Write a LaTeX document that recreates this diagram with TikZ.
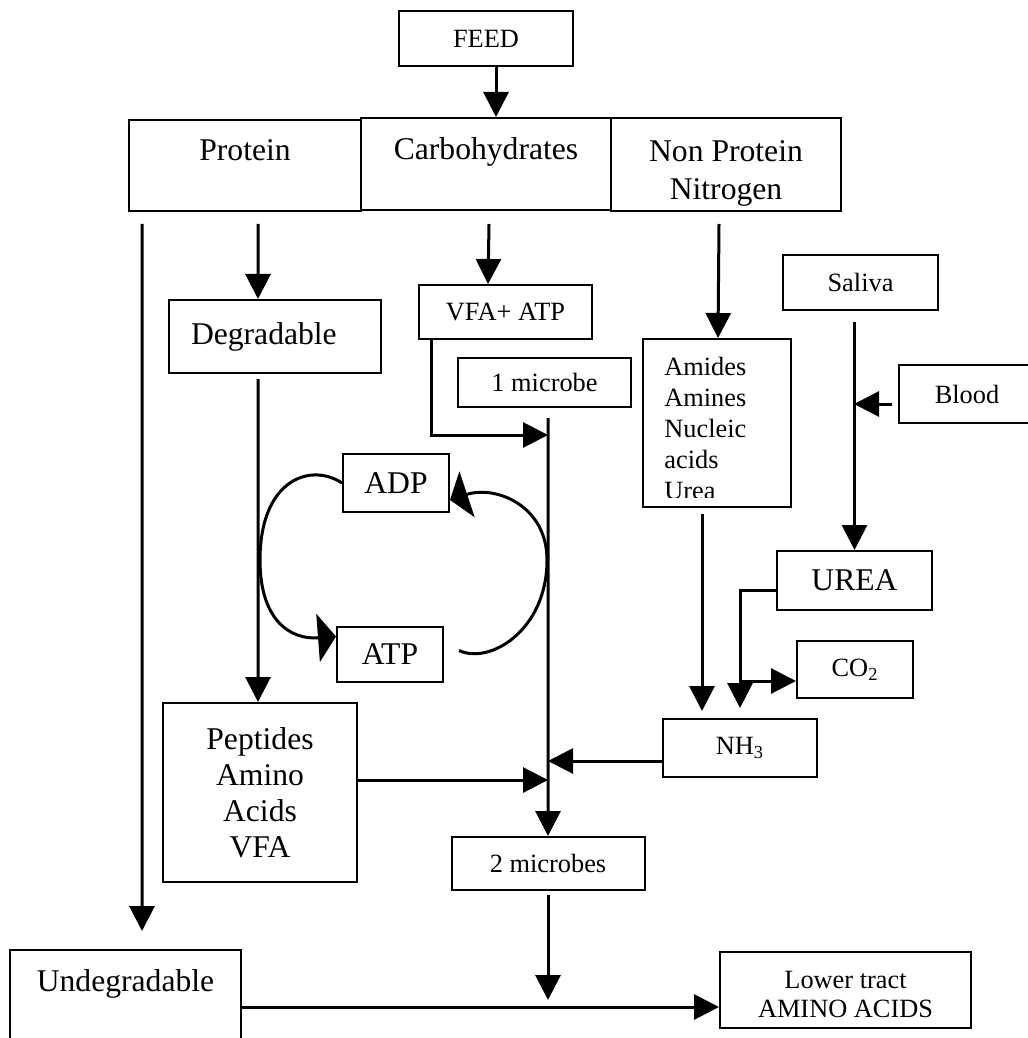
\documentclass[tikz,border=0pt]{standalone}
\usepackage{fontspec}
\setmainfont{Liberation Serif}
\usetikzlibrary{arrows.meta, calc}
\newcommand{\boxfont}{\fontsize{18}{21.5}\selectfont}
\newcommand{\smallboxfont}{\fontsize{15}{18}\selectfont}

\begin{document}
\begin{tikzpicture}[x=0.2mm,y=-0.2mm,
  box/.style={draw,line width=0.4mm,inner sep=0pt,align=center,font=\boxfont},
  smallbox/.style={box,font=\smallboxfont},
  flow/.style={line width=0.6mm},
  arr/.style={flow,-{Triangle[width=5mm,length=5mm]}},
  cyc/.style={line width=0.6mm,-{Triangle[width=9.6mm,length=3.6mm]}}]
  \path[use as bounding box,fill=white](0,0) rectangle (1028,1038);
  % feed and its three parts
  \node[smallbox,minimum width=34.8mm,minimum height=11mm] (feed) at (486,38.5){FEED};
  \node[box,minimum width=46.4mm,minimum height=18.2mm,text depth=6.1mm] (protein) at (245,165.5){Protein};
  \node[box,minimum width=50mm,minimum height=18.4mm,text depth=6.1mm] (carbs) at (486,164){Carbohydrates};
  \node[box,minimum width=46mm,minimum height=18.6mm,text height=15.2mm] (npn) at (726,164.5){Non Protein\\Nitrogen};
  % rumen
  \node[box,minimum width=42.4mm,minimum height=14.6mm,text width=33.6mm,align=left] (degr) at (275,336.5){Degradable};
  \node[smallbox,minimum width=34.6mm,minimum height=10.8mm] (vfa) at (505.5,312){VFA+ ATP};
  \node[smallbox,minimum width=34.6mm,minimum height=9.8mm] (mic1) at (544.5,382.5){1 microbe};
  \node[box,minimum width=29.6mm,minimum height=33.6mm] (amides) at (717,423){};
  \begin{scope}
    \clip (643,339) rectangle (791,497);
    \node[anchor=north west,inner sep=0pt,align=left,font=\fontsize{15}{17.6}\selectfont] (amidestxt) at (664,357){Amides\\Amines\\Nucleic\\acids\\Urea};
  \end{scope}
  \node[smallbox,minimum width=31mm,minimum height=11mm] (saliva) at (860.5,282.5){Saliva};
  \node[smallbox,minimum width=27.2mm,minimum height=11.6mm] (blood) at (967,394){Blood};
  \node[box,minimum width=31mm,minimum height=11.8mm] (urea) at (854.5,580.5){UREA};
  \node[smallbox,minimum width=23.2mm,minimum height=11.4mm] (co2) at (855,669.5){CO\textsubscript{2}};
  \node[smallbox,minimum width=30.8mm,minimum height=11.6mm] (nh3) at (740,748){NH\textsubscript{3}};
  \node[box,minimum width=21.2mm,minimum height=11.6mm] (adp) at (396,483){ADP};
  \node[box,minimum width=21.2mm,minimum height=11mm] (atp) at (390,654.5){ATP};
  \node[box,minimum width=38.8mm,minimum height=35.8mm,font=\fontsize{18}{20.4}\selectfont] (pept) at (260,792.5){Peptides\\Amino\\Acids\\VFA};
  \node[smallbox,minimum width=38.6mm,minimum height=10.6mm] (mic2) at (548,863.5){2 microbes};
  % outflow
  \node[box,minimum width=46.2mm,minimum height=19.2mm,text depth=6.8mm] (undeg) at (125.5,998){Undegradable};
  \node[smallbox,minimum width=50.2mm,minimum height=15.2mm,text height=11.2mm,font=\fontsize{15}{17}\selectfont] (lower) at (845.5,990){Lower tract\\AMINO ACIDS};
  % junctions
  \coordinate (jvfa) at (548,435);
  \coordinate (jnh) at (548,761);
  \coordinate (jpep) at (548,780);
  \coordinate (jlow) at (548,1007);
  \coordinate (jbl) at (854,404);
  \coordinate (jurea) at (740,681);
  % arrows
  \draw[arr]($(feed.south)+(10,0)$)--($(carbs.north)+(10,0)$);
  \draw[arr]($(protein.south west)+(14,12)$)--($(undeg.north west)+(133,-18)$);
  \draw[arr]($(protein.south west)+(130,12)$)--($(degr.north west)+(90,0)$);
  \draw[arr]($(carbs.south)+(3,13)$)--($(vfa.north west)+(70,0)$);
  \draw[arr]($(npn.south)+(-7,12)$)--($(amides.north west)+(76,0)$);
  \draw[arr]($(degr.south west)+(90,5)$)--($(pept.north west)+(96,0)$);
  \draw[arr]($(vfa.south west)+(13,0)$)|-(jvfa);
  \draw[arr]($(mic1.south)+(3.5,10)$)--(mic2.north);
  \draw[arr](pept.east |- jpep)--(jpep);
  \draw[arr](nh3.west |- jnh)--(jnh);
  \draw[arr]($(mic2.south)+(0,4)$)--($(jlow)+(0,-7)$);
  \draw[arr](undeg.east |- jlow)--(lower.west |- jlow);
  \draw[arr]($(amides.south)+(-15,6)$)--($(nh3.north)+(-38,-7)$);
  \draw[arr]($(saliva.south)+(-6,11)$)--(urea.north);
  \draw[arr]($(blood.west)+(-6,10)$)--(jbl);
  \draw[flow]($(urea.west)+(0,9.5)$)-|(jurea);
  \draw[arr](jurea)--(jurea -| co2.west);
  \draw[arr](jurea)--($(nh3.north)+(0,-10)$);
  % ATP / ADP cycle
  \draw[cyc](adp.west) .. controls (310,462) and (260,480) .. (260,560)
    .. controls (260,620) and (290,640) .. ($(atp.west)+(0,-18)$);
  \draw[cyc]($(atp.east)+(15,-4)$) .. controls (490,665) and (547,630) .. (547,560)
    .. controls (547,505) and (495,485) .. ($(adp.east)+(0,17)$);
\end{tikzpicture}
\end{document}
